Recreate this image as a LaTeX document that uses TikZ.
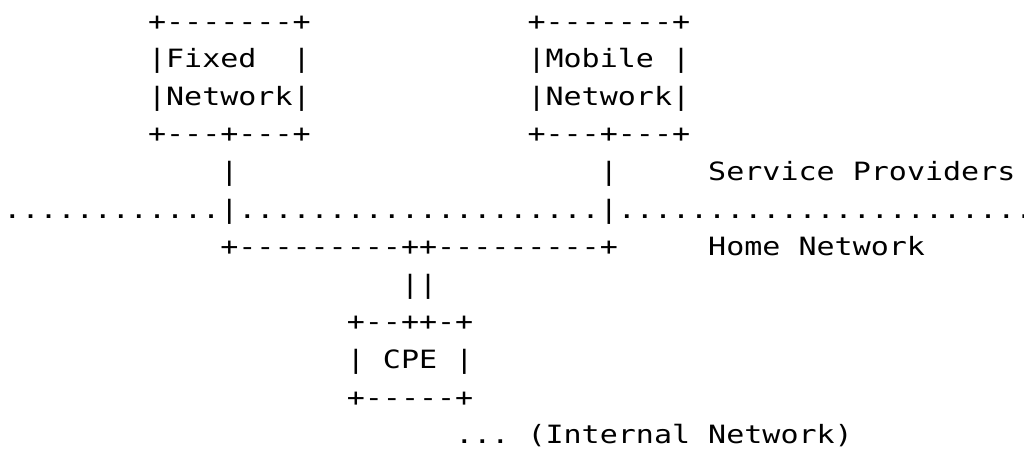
\documentclass[tikz,border=0pt]{standalone}
\usepackage{fontspec}
\setmonofont[FakeStretch=1.191]{DejaVu Sans Mono}

\tikzset{
  art/.style={anchor=base west, inner sep=0pt, outer sep=0pt,
    font=\ttfamily\fontsize{12.6}{15}\selectfont}
}

\begin{document}
\begin{tikzpicture}
    \clip (0,0) rectangle (512pt,-225pt);
    \begin{scope}[shift={(1.75pt,-15pt)}, x=9.035pt, y=-18.8pt]
    % provider boxes
    \node[art] (fixtop) at (8,0) {+-------+};
    \node[art] (mobtop) at (29,0) {+-------+};
    \node[art] (fixname) at (8,1) {|Fixed};
    \node[art] (fixnameend) at (16,1) {|};
    \node[art] (mobname) at (29,1) {|Mobile};
    \node[art] (mobnameend) at (37,1) {|};
    \node[art] (fixnet) at (8,2) {|Network|};
    \node[art] (mobnet) at (29,2) {|Network|};
    \node[art] (fixbot) at (8,3) {+---+---+};
    \node[art] (mobbot) at (29,3) {+---+---+};
    % links down to the border
    \node[art] (fixlink) at (12,4) {|};
    \node[art] (moblink) at (33,4) {|};
    \node[art] (provword) at (39,4) {Service};
    \node[art] (provword2) at (47,4) {Providers};
    \node[art] (borda) at (0,5) {............};
    \node[art] (fixcross) at (12,5) {|};
    \node[art] (bordb) at (13,5) {....................};
    \node[art] (mobcross) at (33,5) {|};
    \node[art] (bordc) at (34,5) {.......................};
    % home side
    \node[art] (homebus) at (12,6) {+---------++---------+};
    \node[art] (homeword) at (39,6) {Home};
    \node[art] (homeword2) at (44,6) {Network};
    \node[art] (cpelink) at (22,7) {||};
    \node[art] (cpetop) at (19,8) {+--++-+};
    \node[art] (cpeleft) at (19,9) {|};
    \node[art] (cpename) at (21,9) {CPE};
    \node[art] (cperight) at (25,9) {|};
    \node[art] (cpebot) at (19,10) {+-----+};
    \node[art] (intdots) at (25,11) {...};
    \node[art] (intword) at (29,11) {(Internal};
    \node[art] (intword2) at (39,11) {Network)};
    \end{scope}
\end{tikzpicture}
\end{document}
